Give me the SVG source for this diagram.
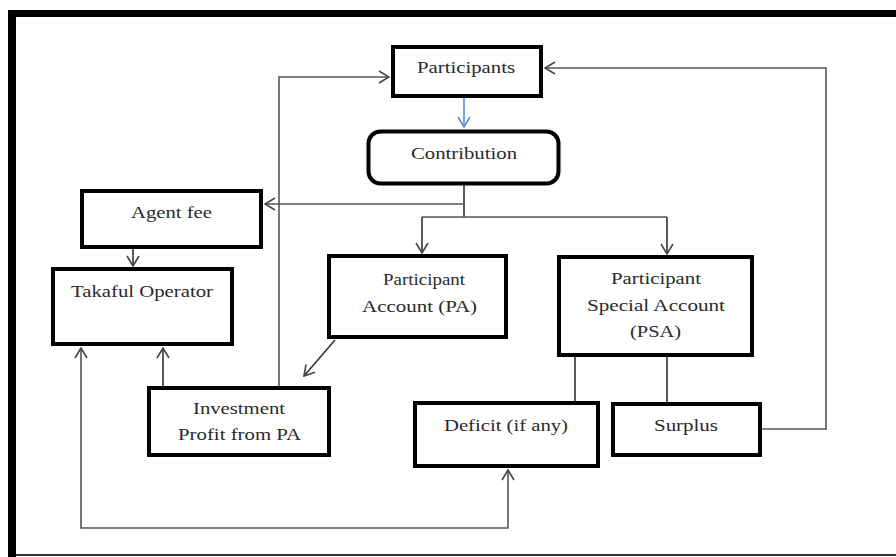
<svg xmlns="http://www.w3.org/2000/svg" width="896" height="557" viewBox="0 0 896 557">
<style>
.box{fill:#fff;stroke:#000;stroke-width:4}
.lbl{font-family:"Liberation Serif","Times New Roman",serif;font-size:16px;fill:#2a2a2a}
.con{fill:none;stroke:#555;stroke-width:1.6}
.dark{stroke:#333}
</style>
<defs>
<marker id="ah" viewBox="0 0 12 14" refX="11" refY="7" markerWidth="12" markerHeight="14" markerUnits="userSpaceOnUse" orient="auto-start-reverse">
<path d="M1 1 L11 7 L1 13" fill="none" stroke="#444" stroke-width="1.6"/>
</marker>
<marker id="ahb" viewBox="0 0 12 14" refX="11" refY="7" markerWidth="12" markerHeight="14" markerUnits="userSpaceOnUse" orient="auto">
<path d="M1 1 L11 7 L1 13" fill="none" stroke="#5b8fd0" stroke-width="1.6"/>
</marker>
</defs>
<rect x="0" y="0" width="896" height="557" fill="#fff"/>
<g id="frame">
<rect x="8" y="10" width="888" height="7" fill="#000"/>
<rect x="8" y="10" width="8" height="547" fill="#000"/>
<rect x="16" y="554" width="880" height="2" fill="#333"/>
</g>
<g id="connectors">
<path d="M464 98 V127" fill="none" stroke="#5b8fd0" stroke-width="1.6" marker-end="url(#ahb)"/>
<path class="con dark" d="M464 185 V217"/>
<path class="con" d="M422 217 H667"/>
<path class="con dark" d="M422 217 V253" marker-end="url(#ah)"/>
<path class="con dark" d="M667 217 V254" marker-end="url(#ah)"/>
<path class="con" d="M464 204 H265" marker-end="url(#ah)"/>
<path class="con" d="M279 386 V77 H389" marker-end="url(#ah)"/>
<path class="con" d="M762 429 H826 V68 H545" marker-end="url(#ah)"/>
<path class="con dark" d="M133 249 V266" marker-end="url(#ah)"/>
<path class="con dark" d="M335 340 L304 376" marker-end="url(#ah)"/>
<path class="con dark" d="M163 393 V348" marker-end="url(#ah)"/>
<path class="con" d="M81 348 V528 H508 V470" marker-start="url(#ah)" marker-end="url(#ah)"/>
<path class="con dark" d="M575 357 V401"/>
<path class="con dark" d="M667 357 V402"/>
</g>
<g id="participants">
<rect class="box" x="393" y="47" width="148" height="49"/>
<text class="lbl" x="417" y="73" textLength="98" lengthAdjust="spacingAndGlyphs">Participants</text>
</g>
<g id="contribution">
<rect class="box" x="368.5" y="131.5" width="190" height="52" rx="12" stroke-width="3"/>
<text class="lbl" x="411" y="159" textLength="106" lengthAdjust="spacingAndGlyphs">Contribution</text>
</g>
<g id="agent-fee">
<rect class="box" x="82" y="191" width="179" height="56"/>
<text class="lbl" x="131" y="218" textLength="81" lengthAdjust="spacingAndGlyphs">Agent fee</text>
</g>
<g id="takaful-operator">
<rect class="box" x="53" y="269" width="179" height="75"/>
<text class="lbl" x="71" y="297" textLength="142" lengthAdjust="spacingAndGlyphs">Takaful Operator</text>
</g>
<g id="participant-account">
<rect class="box" x="329" y="256" width="177" height="81"/>
<text class="lbl" x="383" y="285" textLength="82" lengthAdjust="spacingAndGlyphs">Participant</text>
<text class="lbl" x="362" y="312" textLength="115" lengthAdjust="spacingAndGlyphs">Account (PA)</text>
</g>
<g id="participant-special-account">
<rect class="box" x="559" y="257" width="193" height="98"/>
<text class="lbl" x="611" y="284" textLength="90" lengthAdjust="spacingAndGlyphs">Participant</text>
<text class="lbl" x="587" y="311" textLength="138" lengthAdjust="spacingAndGlyphs">Special Account</text>
<text class="lbl" x="630" y="337" textLength="51" lengthAdjust="spacingAndGlyphs">(PSA)</text>
</g>
<g id="investment-profit">
<rect class="box" x="149" y="388" width="180" height="67"/>
<text class="lbl" x="193" y="414" textLength="92" lengthAdjust="spacingAndGlyphs">Investment</text>
<text class="lbl" x="178" y="440" textLength="123" lengthAdjust="spacingAndGlyphs">Profit from PA</text>
</g>
<g id="deficit">
<rect class="box" x="415" y="403" width="183" height="63"/>
<text class="lbl" x="444" y="431" textLength="124" lengthAdjust="spacingAndGlyphs">Deficit (if any)</text>
</g>
<g id="surplus">
<rect class="box" x="613" y="404" width="147" height="51"/>
<text class="lbl" x="654" y="431" textLength="64" lengthAdjust="spacingAndGlyphs">Surplus</text>
</g>
</svg>
